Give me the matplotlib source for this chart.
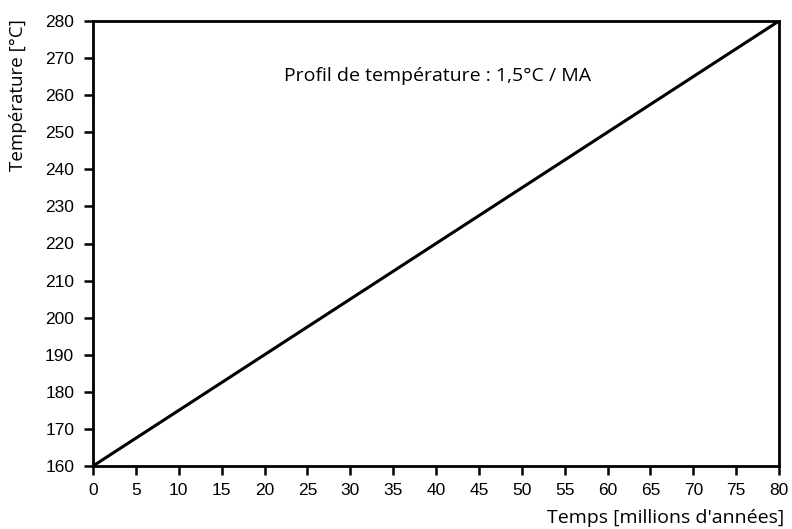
import matplotlib
matplotlib.use("Agg")
import matplotlib.pyplot as plt

# Temperature profile: linear heating of 1.5 °C per million years
time_ma = [0, 80]
temperature_c = [160, 280]

x_ticks = list(range(0, 81, 5))
y_ticks = list(range(160, 281, 10))

fig = plt.figure(figsize=(7.92, 5.29), dpi=100)
ax = fig.add_axes([93 / 792, 1 - 466 / 529, (779 - 93) / 792, (466 - 21) / 529])

ax.plot(time_ma, temperature_c, color="black", linewidth=2.2, solid_capstyle="butt")

ax.set_xlim(0, 80)
ax.set_ylim(160, 280)
ax.set_xticks(x_ticks)
ax.set_yticks(y_ticks)

for s in ax.spines.values():
    s.set_linewidth(2.0)
ax.tick_params(direction="out", length=6.5, width=1.8)
ax.tick_params(axis="y", pad=7)
ax.tick_params(axis="x", pad=6)
for lbl in ax.get_xticklabels() + ax.get_yticklabels():
    lbl.set_fontfamily("Liberation Sans")
    lbl.set_fontsize(12.5)

text_font = ["Open Sans", "DejaVu Sans"]
fig.text(784 / 792, 1 - 523 / 529, "Temps [millions d'années]", ha="right", va="baseline",
         fontsize=14, family=text_font)
fig.text(18 / 792, 1 - 19 / 529, "Température [°C]", ha="center", va="top",
         rotation=90, fontsize=13.5, family=text_font)
ax.text(40.2, 265.2, "Profil de température : 1,5°C / MA", ha="center", va="center",
        fontsize=14, family=text_font)

fig.savefig("out.png", dpi=100)
